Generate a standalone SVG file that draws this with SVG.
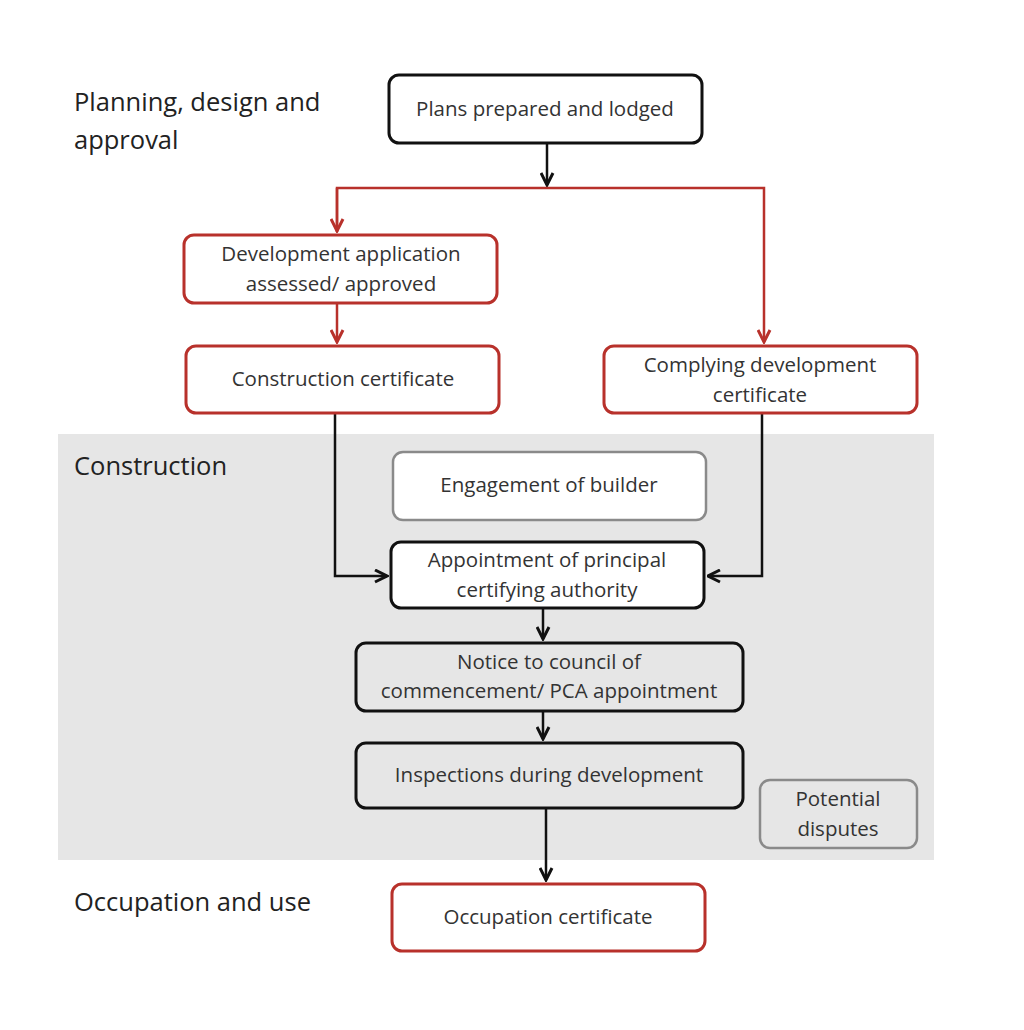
<svg xmlns="http://www.w3.org/2000/svg" width="1024" height="1030" viewBox="0 0 1024 1030">
<style>
.b{fill:#fff;stroke:#111;stroke-width:3}
.r{fill:#fff;stroke:#b8312b;stroke-width:3}
.g{fill:#fff;stroke:#8a8a8a;stroke-width:2.5}
.t{font-family:"Open Sans","Liberation Sans",sans-serif;font-size:20.5px;fill:#333;text-anchor:middle}
.h{font-family:"Open Sans","Liberation Sans",sans-serif;font-size:25.5px;fill:#222}
.k{fill:none;stroke:#111;stroke-width:2.5}
.kr{fill:none;stroke:#b8312b;stroke-width:2.5}
</style>
<defs>
<marker id="ab" viewBox="0 0 10 10" refX="9" refY="5" markerWidth="6" markerHeight="6" orient="auto"><path d="M1,1 L9,5 L1,9" fill="none" stroke="#111" stroke-width="2"/></marker>
<marker id="ar" viewBox="0 0 10 10" refX="9" refY="5" markerWidth="6" markerHeight="6" orient="auto"><path d="M1,1 L9,5 L1,9" fill="none" stroke="#b8312b" stroke-width="2"/></marker>
</defs>
<rect width="1024" height="1030" fill="#fff"/>
<rect x="58" y="434" width="876" height="426" fill="#e6e6e6"/>
<text class="h" x="74" y="111">Planning, design and</text>
<text class="h" x="74" y="149">approval</text>
<text class="h" x="74" y="475">Construction</text>
<text class="h" x="74" y="911">Occupation and use</text>
<g id="connectors">
<path class="k" d="M547,143 V185" marker-end="url(#ab)"/>
<path class="kr" d="M337,232 V188 H764 V342" marker-end="url(#ar)"/>
<path class="kr" d="M337,188 V231" marker-end="url(#ar)"/>
<path class="kr" d="M337,303 V342" marker-end="url(#ar)"/>
<path class="k" d="M335,413 V576 H387" marker-end="url(#ab)"/>
<path class="k" d="M762,413 V576 H708" marker-end="url(#ab)"/>
<path class="k" d="M543,608 V639" marker-end="url(#ab)"/>
<path class="k" d="M543,711 V739" marker-end="url(#ab)"/>
<path class="k" d="M546,808 V880" marker-end="url(#ab)"/>
</g>
<g id="plans"><rect class="b" x="389" y="75" width="313" height="68" rx="10"/><text class="t" x="545" y="116">Plans prepared and lodged</text></g>
<g id="devapp"><rect class="r" x="184" y="235" width="313" height="68" rx="10"/><text class="t" x="341" y="261">Development application</text><text class="t" x="341" y="291">assessed/ approved</text></g>
<g id="cc"><rect class="r" x="186" y="346" width="313" height="67" rx="10"/><text class="t" x="343" y="386">Construction certificate</text></g>
<g id="cdc"><rect class="r" x="604" y="346" width="313" height="67" rx="10"/><text class="t" x="760" y="372">Complying development</text><text class="t" x="760" y="402">certificate</text></g>
<g id="builder"><rect class="g" x="393" y="452" width="313" height="68" rx="10"/><text class="t" x="549" y="492">Engagement of builder</text></g>
<g id="pca"><rect class="b" x="391" y="542" width="313" height="66" rx="10"/><text class="t" x="547" y="567">Appointment of principal</text><text class="t" x="547" y="597">certifying authority</text></g>
<g id="notice"><rect class="b" x="356" y="643" width="387" height="68" rx="10" style="fill:#e6e6e6"/><text class="t" x="549" y="669">Notice to council of</text><text class="t" x="549" y="698">commencement/ PCA appointment</text></g>
<g id="insp"><rect class="b" x="356" y="743" width="387" height="65" rx="10" style="fill:#e6e6e6"/><text class="t" x="549" y="782">Inspections during development</text></g>
<g id="disputes"><rect class="g" x="760" y="780" width="157" height="68" rx="10" style="fill:#e6e6e6"/><text class="t" x="838" y="806">Potential</text><text class="t" x="838" y="836">disputes</text></g>
<g id="occ"><rect class="r" x="392" y="884" width="313" height="67" rx="10"/><text class="t" x="548" y="924">Occupation certificate</text></g>
</svg>
